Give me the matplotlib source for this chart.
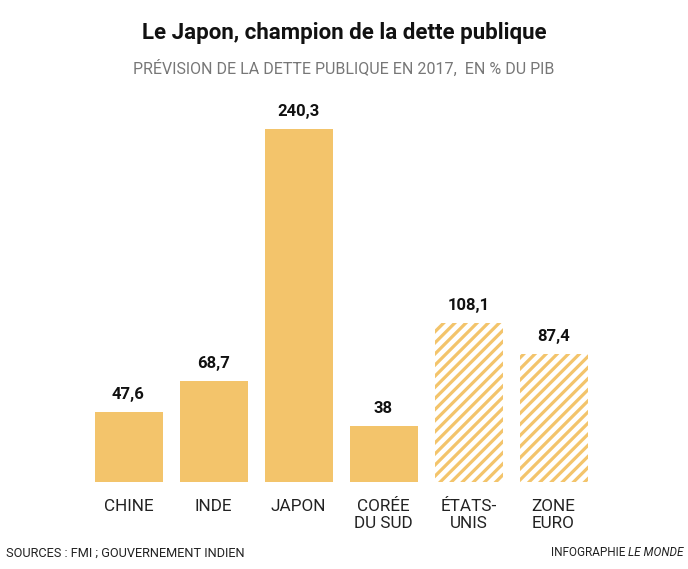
import matplotlib.pyplot as plt

categories = ['CHINE', 'INDE', 'JAPON', 'CORÉE\nDU SUD', 'ÉTATS-\nUNIS', 'ZONE\nEURO']
values = [47.6, 68.7, 240.3, 38, 108.1, 87.4]
labels = ['47,6', '68,7', '240,3', '38', '108,1', '87,4']
forecast = [False, False, False, False, True, True]

orange = '#F3C46B'
font = 'Roboto'
plt.rcParams['hatch.linewidth'] = 2.3

fig = plt.figure(figsize=(6.88, 5.69), dpi=100, facecolor='white')
W, H = 688, 569
# axes placed in pixels: baseline at y=482, slots 85 px wide
ax = fig.add_axes([86 / W, (H - 482) / H, 510 / W, 382 / H])

for i, (v, f) in enumerate(zip(values, forecast)):
    if f:
        ax.bar(i, v, width=0.8, facecolor='white', edgecolor=orange,
               hatch='///', linewidth=0)
    else:
        ax.bar(i, v, width=0.8, color=orange, linewidth=0)
    ax.annotate(labels[i], (i, v), xytext=(0, 7), textcoords='offset points',
                ha='center', va='bottom', fontsize=12, fontweight='bold',
                family=font, color='#111111')

ax.set_xlim(-0.5, 5.5)
ax.set_ylim(0, 260)
ax.set_xticks(range(len(categories)))
ax.set_xticklabels(categories, fontsize=12.3, family=font, color='#222222',
                   linespacing=1.2, va='top')
ax.tick_params(axis='x', length=0, pad=12)
ax.set_yticks([])
for s in ax.spines.values():
    s.set_visible(False)

fig.text(0.5, 1 - 33 / H, 'Le Japon, champion de la dette publique',
         ha='center', va='center', fontsize=16, fontweight='bold',
         family=font, color='#111111')
fig.text(0.5, 1 - 68 / H, 'PRÉVISION DE LA DETTE PUBLIQUE EN 2017,  EN % DU PIB',
         ha='center', va='center', fontsize=11.5, family=font, color='#777777')
fig.text(6 / W, 1 - 553 / H, 'SOURCES : FMI ; GOUVERNEMENT INDIEN',
         ha='left', va='center', fontsize=9.2, family=font, color='#222222')
t = fig.text(684 / W, 1 - 553 / H, 'LE MONDE', ha='right', va='center',
             fontsize=8.5, family=font, style='italic', color='#222222')
fig.canvas.draw()
bb = t.get_window_extent()
fig.text((bb.x0 - 3) / W, 1 - 553 / H, 'INFOGRAPHIE', ha='right', va='center',
         fontsize=8.5, family=font, color='#222222')

fig.savefig('out.png', dpi=100, facecolor='white')
